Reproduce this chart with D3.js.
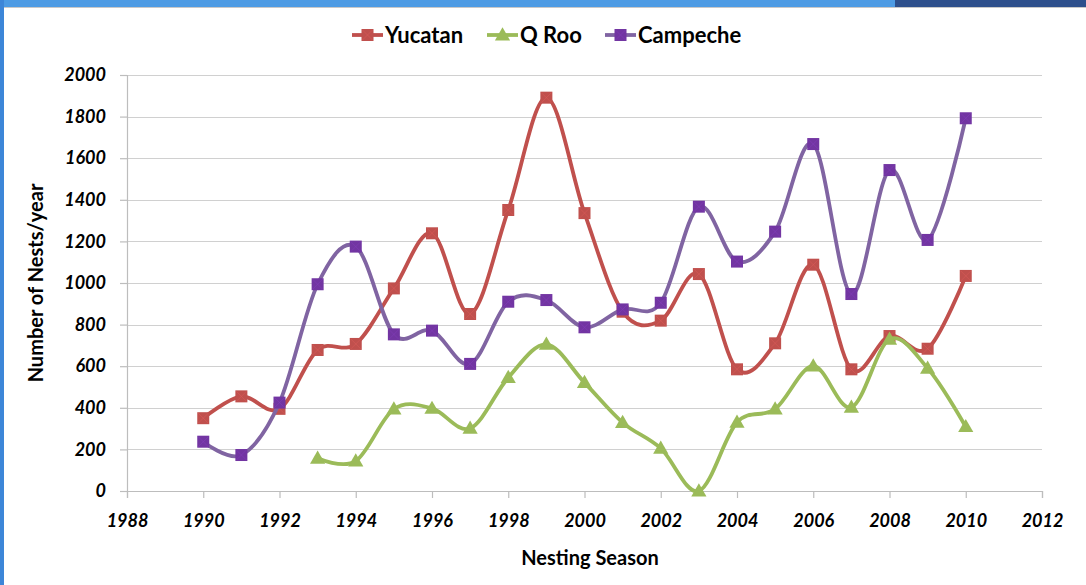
<!DOCTYPE html>
<html>
<head>
<meta charset="utf-8">
<script src="https://cdn.jsdelivr.net/npm/d3@7"></script>
<style>
  body { margin: 0; background: #fff; }
  svg { display: block; }
</style>
</head>
<body>
<div id="chart"></div>
<script>
const years = [1990, 1991, 1992, 1993, 1994, 1995, 1996, 1997, 1998, 1999, 2000,
  2001, 2002, 2003, 2004, 2005, 2006, 2007, 2008, 2009, 2010];
const yucatan = [350, 455, 395, 678, 707, 974, 1239, 851, 1351, 1891, 1336,
  862, 819, 1043, 585, 710, 1088, 585, 745, 684, 1034];
const qroo = [null, null, null, 157, 144, 394, 397, 301, 545, 705, 521,
  329, 205, 0, 330, 394, 601, 402, 729, 590, 309];
const campeche = [237, 173, 425, 994, 1175, 753, 771, 611, 910, 918, 787,
  873, 905, 1367, 1103, 1247, 1668, 947, 1543, 1207, 1792];
const xTicks = [1988, 1990, 1992, 1994, 1996, 1998, 2000, 2002, 2004, 2006, 2008, 2010, 2012];
const yTicks = [0, 200, 400, 600, 800, 1000, 1200, 1400, 1600, 1800, 2000];

const series = [
  { name: 'Yucatan', values: yucatan, color: '#c0504d', marker: '#c0504d', shape: 'square' },
  { name: 'Q Roo', values: qroo, color: '#9bbb59', marker: '#9bbb59', shape: 'triangle' },
  { name: 'Campeche', values: campeche, color: '#8064a2', marker: '#7235a2', shape: 'square' }
];

const W = 1086, H = 585;
const font = 'Lato, "Open Sans", sans-serif';

const svg = d3.select('#chart').append('svg')
  .attr('width', W)
  .attr('height', H);

// window frame
svg.append('rect').attr('x', 0).attr('y', 0).attr('width', W).attr('height', H).attr('fill', '#fff');
svg.append('rect').attr('x', 0).attr('y', 0).attr('width', W).attr('height', 7).attr('fill', '#4d9be4');
svg.append('rect').attr('x', 895).attr('y', 0).attr('width', W - 895).attr('height', 7).attr('fill', '#2d4f8c');
svg.append('rect').attr('x', 0).attr('y', 0).attr('width', 4).attr('height', H).attr('fill', '#3d86d8');
svg.append('line').attr('x1', 4).attr('x2', W).attr('y1', 7.5).attr('y2', 7.5).attr('stroke', '#c8c8c8');

const x = d3.scaleLinear().domain([1988, 2012]).range([127, 1042]);
const y = d3.scaleLinear().domain([0, 2000]).range([491, 75]);

// gridlines
svg.append('g')
  .selectAll('line')
  .data(yTicks.filter(d => d > 0))
  .enter()
  .append('line')
  .attr('x1', x(1988))
  .attr('x2', x(2012))
  .attr('y1', d => Math.round(y(d)) + 0.5)
  .attr('y2', d => Math.round(y(d)) + 0.5)
  .attr('stroke', '#d0d0d0')
  .attr('stroke-width', 1.2);

// y axis
const yAxis = svg.append('g')
  .attr('transform', `translate(${x(1988)},0)`)
  .call(d3.axisLeft(y).tickValues(yTicks).tickSize(7).tickPadding(14).tickFormat(d3.format('d')));
yAxis.select('.domain').attr('stroke', '#bdbdbd').attr('stroke-width', 1.2);
yAxis.selectAll('.tick line').attr('stroke', '#bdbdbd').attr('stroke-width', 1.2);
yAxis.selectAll('.tick text')
  .attr('font-family', font)
  .attr('font-size', 18)
  .attr('font-weight', 'bold')
  .attr('font-style', 'italic')
  .attr('fill', '#000');

// x axis
const xAxis = svg.append('g')
  .attr('transform', `translate(0,${y(0)})`)
  .call(d3.axisBottom(x).tickValues(xTicks).tickSize(7).tickPadding(16).tickFormat(d3.format('d')));
xAxis.select('.domain').attr('stroke', '#bdbdbd').attr('stroke-width', 1.2);
xAxis.selectAll('.tick line').attr('stroke', '#bdbdbd').attr('stroke-width', 1.2);
xAxis.selectAll('.tick text')
  .attr('font-family', font)
  .attr('font-size', 18)
  .attr('font-weight', 'bold')
  .attr('font-style', 'italic')
  .attr('fill', '#000');

// axis titles
svg.append('text')
  .attr('transform', `translate(43,${(y(0) + y(2000)) / 2}) rotate(-90)`)
  .attr('text-anchor', 'middle')
  .attr('font-family', font)
  .attr('font-size', 20)
  .attr('font-weight', 'bold')
  .attr('fill', '#000')
  .text('Number of Nests/year');

svg.append('text')
  .attr('x', 590)
  .attr('y', 565)
  .attr('text-anchor', 'middle')
  .attr('font-family', font)
  .attr('font-size', 20)
  .attr('font-weight', 'bold')
  .attr('fill', '#000')
  .text('Nesting Season');

const line = d3.line()
  .defined(d => d.v != null)
  .x(d => x(d.year))
  .y(d => y(d.v))
  .curve(d3.curveCardinal.tension(0));

const tri = d3.symbol().type(d3.symbolTriangle).size(100);

function drawMarker(g, s, cx, cy) {
  if (s.shape === 'square') {
    g.append('rect')
      .attr('x', cx - 6).attr('y', cy - 6)
      .attr('width', 12).attr('height', 12)
      .attr('fill', s.marker);
    g.append('path')
      .attr('d', `M${cx - 5},${cy - 5}L${cx + 5},${cy + 5}M${cx + 5},${cy - 5}L${cx - 5},${cy + 5}`)
      .attr('stroke', d3.color(s.marker).brighter(0.4))
      .attr('stroke-opacity', 0.5)
      .attr('stroke-width', 1);
  } else {
    g.append('path')
      .attr('d', tri)
      .attr('transform', `translate(${cx},${cy + 1})`)
      .attr('fill', s.marker);
  }
}

series.forEach(s => {
  const pts = years.map((yr, i) => ({ year: yr, v: s.values[i] }));
  const g = svg.append('g');
  g.append('path')
    .datum(pts)
    .attr('d', line)
    .attr('fill', 'none')
    .attr('stroke', s.color)
    .attr('stroke-width', 3.8);
  pts.filter(d => d.v != null).forEach(d => drawMarker(g, s, x(d.year), y(d.v)));
});

// legend
const legendX = [352, 487, 605];
const legend = svg.append('g');
series.forEach((s, i) => {
  const lg = legend.append('g');
  lg.append('line')
    .attr('x1', legendX[i]).attr('x2', legendX[i] + 31)
    .attr('y1', 35).attr('y2', 35)
    .attr('stroke', s.color).attr('stroke-width', 3.8);
  drawMarker(lg, s, legendX[i] + 15.5, 35);
  lg.append('text')
    .attr('x', legendX[i] + 33)
    .attr('y', 43)
    .attr('font-family', font)
    .attr('font-size', 22)
    .attr('font-weight', 'bold')
    .attr('fill', '#000')
    .text(s.name);
});
</script>
</body>
</html>
